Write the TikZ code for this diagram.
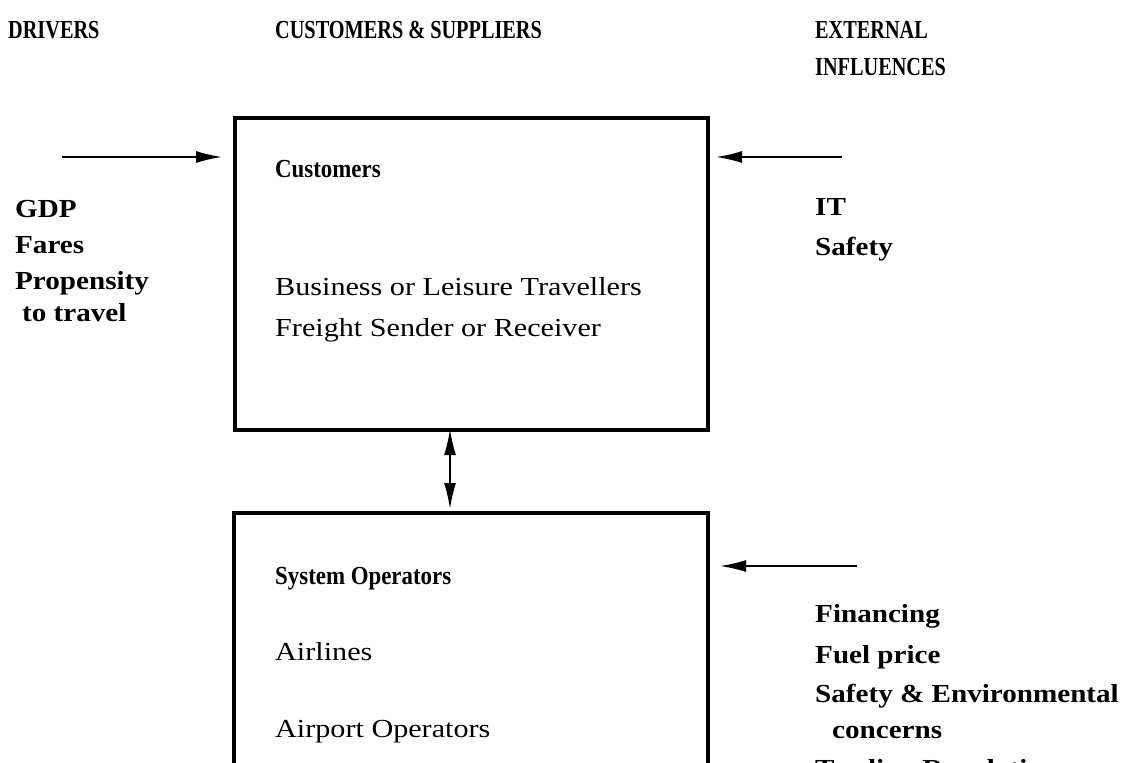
\documentclass[tikz,border=0pt]{standalone}
\usepackage{fontspec}
\setmainfont{Liberation Serif}
\newfontfamily\headfont{Liberation Serif}[FakeStretch=0.78]
\newfontfamily\titlefont{Liberation Serif}[FakeStretch=0.88]
\newfontfamily\listfont{Liberation Serif}[FakeStretch=1.12]
\newfontfamily\bodyfont{Liberation Serif}[FakeStretch=1.16]
\usetikzlibrary{arrows.meta}
\begin{document}
\begin{tikzpicture}[x=1pt,y=-1pt,
  txt/.style={anchor=base west,inner sep=0pt,font=\fontsize{26}{30}\selectfont},
  head/.style={txt,font=\fontsize{26}{30}\selectfont\headfont\bfseries},
  boxtitle/.style={txt,font=\fontsize{26}{30}\selectfont\titlefont\bfseries},
  item/.style={txt,font=\fontsize{26}{30}\selectfont\listfont\bfseries},
  body/.style={txt,font=\fontsize{26}{30}\selectfont\bodyfont},
  frame/.style={draw,line width=4pt},
  influence/.style={line width=1.8pt,-{Latex[length=26pt,width=12pt]}},
  link/.style={line width=1.8pt,{Latex[length=26pt,width=12pt]}-{Latex[length=26pt,width=12pt]}}]
\useasboundingbox (0,0) rectangle (1133,763);
\clip (0,0) rectangle (1133,763);
\fill[white] (0,0) rectangle (1133,763);

% column headings
\node[head] (hdrivers) at (8,38) {DRIVERS};
\node[head] (hcs) at (275,38) {CUSTOMERS \& SUPPLIERS};
\node[head] (hext1) at (815,38) {EXTERNAL};
\node[head] (hext2) at (815,75) {INFLUENCES};

% the two boxes
\node[frame,minimum width=473pt,minimum height=312pt,anchor=north west,inner sep=0pt] (cust) at (233,115.5) {};
\node[frame,minimum width=474pt,minimum height=300pt,anchor=north west,inner sep=0pt] (ops) at (232,511) {};

% customers box text
\node[boxtitle] (tcust) at (275,177) {Customers};
\node[body] (tbus) at (275,295) {Business or Leisure Travellers};
\node[body] (tfre) at (275,336) {Freight Sender or Receiver};

% operators box text
\node[boxtitle] (tops) at (275,584) {System Operators};
\node[body] (tair) at (275,660) {Airlines};
\node[body] (tport) at (275,737) {Airport Operators};

% drivers
\node[item] (gdp) at (15,217) {GDP};
\node[item] (fares) at (15,253) {Fares};
\node[item] (prop) at (15,289) {Propensity};
\node[item] (prop2) at (22,321) {to travel};

% external influences on customers
\node[item] (it) at (815,215) {IT};
\node[item] (safety) at (815,255) {Safety};

% external influences on operators
\node[item] (fin) at (815,622) {Financing};
\node[item] (fuel) at (815,663) {Fuel price};
\node[item] (senv) at (815,702) {Safety \& Environmental};
\node[item] (conc) at (832,738) {concerns};
\node[item] (trade) at (815,777) {Trading Regulations};

% connectors
\coordinate (dstart) at (62,157);
\coordinate (estart) at (842,157);
\coordinate (ostart) at (857,566);
\draw[influence] (dstart) -- (222,157);
\draw[influence] (estart) -- (716,157);
\draw[influence] (ostart) -- (720,566);
\draw[link] (450,429) -- (450,509);
\end{tikzpicture}
\end{document}
